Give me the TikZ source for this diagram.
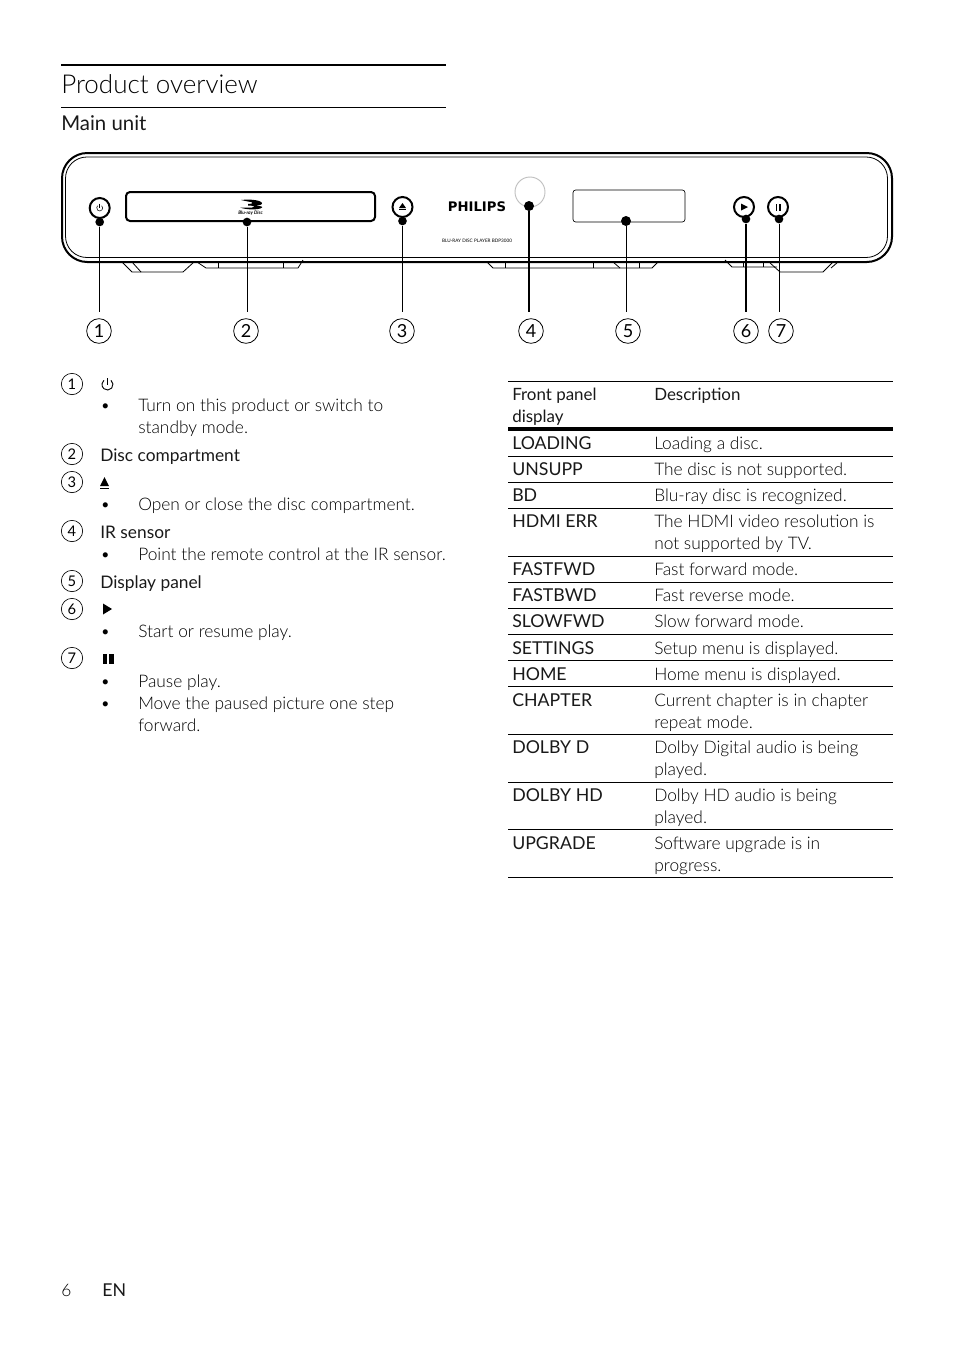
\documentclass[tikz,border=0pt]{standalone}
\usepackage{fontspec}
\setmainfont{Lato}
\newfontfamily\lightfont{Lato Light}
\newfontfamily\brandfont{DejaVu Sans}
\usepackage{tikz}
\usetikzlibrary{arrows.meta, positioning, shapes.geometric}

\begin{document}
\begin{tikzpicture}[
    x=0.75pt, y=-0.75pt,
    txt/.style={anchor=base west, inner sep=0pt, align=left, text=black!90,
                font=\fontsize{13}{16.5}\selectfont},
    capstxt/.style={txt, font=\fontsize{13.3}{16.5}\selectfont},
    headtxt/.style={txt, font=\fontsize{12.7}{16.5}\selectfont},
    desc/.style={txt, text=black, font=\fontsize{13}{16.5}\selectfont\lightfont},
    num/.style={circle, draw=black, line width=0.6pt, inner sep=0pt, minimum size=18.5pt,
                font=\fontsize{13.5}{14}\selectfont},
    key/.style={circle, draw=black, line width=0.5pt, inner sep=0pt, minimum size=16pt,
                font=\fontsize{11}{12}\selectfont},
    btn/.style={circle, draw=black, line width=1.5pt, fill=white, inner sep=0pt, minimum size=15pt},
    dot/.style={circle, fill=black, inner sep=0pt, minimum size=6.5pt},
    lead/.style={line width=0.55pt},
    leadb/.style={line width=1.4pt},
    edge/.style={line width=0.6pt}
]
\useasboundingbox (0,0) rectangle (954,1350);
% heading
\draw[line width=1.2pt] (61,65) -- (446,65);
\draw[line width=0.5pt] (61,107) -- (446,107);
\node[txt, text=black, font=\fontsize{19.5}{22}\selectfont\lightfont] (title) at (61,93) {Product overview};
\node[txt, font=\fontsize{15.3}{18}\selectfont] (sub) at (61,130) {Main unit};
% player
\draw[line width=1.5pt, rounded corners=19pt] (62,153) rectangle (892,262);
\draw[line width=0.6pt, rounded corners=16pt] (65.5,157) rectangle (887.5,257.5);
\draw[edge] (122,262) -- (132,272) -- (183,272) -- (194,262);
\draw[edge] (132,262) -- (141,272);
\draw[edge] (197,262) -- (206,268) -- (298,268) -- (303,260);
\draw[edge] (218,262) -- (218,268); \draw[edge] (283,262) -- (283,268);
\draw[edge] (487,262) -- (493,268) -- (652,268) -- (658,262);
\draw[edge] (505,262) -- (505,268); \draw[edge] (593,262) -- (593,268);
\draw[edge] (613,262) -- (620,268); \draw[edge] (639,262) -- (639,268);
\draw[edge] (725,260) -- (732,267) -- (777,267);
\draw[edge] (743,262) -- (743,267); \draw[edge] (763,262) -- (763,267);
\draw[edge] (769,262) -- (780,272) -- (823,272) -- (833,262);
\draw[edge] (831,268) -- (838,262);
% front panel
\draw[line width=1.5pt, rounded corners=3pt] (126,192) rectangle (375,221);
\draw[line width=0.5pt, rounded corners=2pt] (573,190) rectangle (685,222);
\draw[black!25, line width=0.7pt] (530,192) circle[radius=15];
\fill (241,200) .. controls (250,199) and (262,200) .. (262,203.5) .. controls (262,205) and (258,205.5) .. (255,205.5) .. controls (260,206) and (263,206.5) .. (262,207.5) .. controls (260,210) and (246,210) .. (240,207.5) -- (252,207.5) .. controls (256,207) and (254,205.5) .. (248,205.5) -- (248,204) .. controls (254,204) and (254,202) .. (248,201.5) -- cycle;
\node[inner sep=0pt, font=\fontsize{3.6}{4}\selectfont\bfseries\itshape] (bdlogo) at (250.5,213) {Blu-ray Disc};
\node[inner sep=0pt, font=\fontsize{9.9}{11}\selectfont\brandfont\bfseries] (brand) at (477,207) {PHILIPS};
\node[inner sep=0pt, font=\fontsize{3.5}{4}\selectfont] (model) at (477,241) {BLU-RAY DISC PLAYER BDP3000};
\node[btn] (bpwr) at (99.7,208) {};
\node[btn] (bejc) at (402.5,207) {};
\node[btn] (bply) at (744,207) {};
\node[btn] (bpau) at (778,207) {};
\draw[line width=0.4pt] (101.6,205.7) arc[start angle=-50, end angle=230, radius=3];
\draw[line width=0.4pt] (99.7,203.5) -- (99.7,207.5);
\fill (399,208) -- (402.5,203) -- (406,208) -- cycle;
\fill (399,209) rectangle (406,210);
\fill (741,203.5) -- (748,207) -- (741,210.5) -- cycle;
\fill (775.5,203.5) rectangle (776.8,210.5);
\fill (779.2,203.5) rectangle (780.5,210.5);
% callouts
\node[dot] (d1) at (99.7,222) {};
\node[dot] (d2) at (247,222) {};
\node[dot] (d3) at (402.5,221) {};
\node[dot, minimum size=7.5pt] (d4) at (529,206) {};
\node[dot, minimum size=7.5pt] (d5) at (626,221) {};
\node[dot] (d6) at (746,219) {};
\node[dot] (d7) at (779,219) {};
\coordinate (e1) at (99.7,312);
\coordinate (e2) at (247,312);
\coordinate (e3) at (402.5,312);
\coordinate (e4) at (529,312);
\coordinate (e5) at (626,312);
\coordinate (e6) at (746,312);
\coordinate (e7) at (779,312);
\draw[lead] (d1) -- (e1); \draw[lead] (d2) -- (e2); \draw[lead] (d3) -- (e3);
\draw[leadb] (d4) -- (e4); \draw[lead] (d5) -- (e5);
\draw[leadb] (d6) -- (e6); \draw[lead] (d7) -- (e7);
\node[num] (n1) at (99,331) {1};
\node[num] (n2) at (246,331) {2};
\node[num] (n3) at (402,331) {3};
\node[num] (n4) at (531,331) {4};
\node[num] (n5) at (628,331) {5};
\node[num] (n6) at (746,331) {6};
\node[num] (n7) at (781,331) {7};
% legend
\node[key] (k1) at (72,384) {1};
\node[key] (k2) at (72,454) {2};
\node[key] (k3) at (72,482) {3};
\node[key] (k4) at (72,531) {4};
\node[key] (k5) at (72,581) {5};
\node[key] (k6) at (72,609) {6};
\node[key] (k7) at (72,658) {7};
\draw[line width=0.7pt] (111,380.3) arc[start angle=-50, end angle=230, radius=5.5];
\draw[line width=0.7pt] (107.5,378) -- (107.5,384.5);
\fill (100,486) -- (104.5,477) -- (109,486) -- cycle;
\fill (100,487.5) rectangle (109,488.5);
\fill (103,603.5) -- (112,609) -- (103,614.5) -- cycle;
\fill (103,654) rectangle (107,664);
\fill (109,654) rectangle (114,664);
\node[desc] (b1) at (100,411) {•};
\node[desc] (t1) at (138,411) {Turn on this product or switch to};
\node[desc] (t1b) at (138,433) {standby mode.};
\node[txt] (l2) at (100,461) {Disc compartment};
\node[desc] (b3) at (100,510) {•};
\node[desc] (t3) at (138,510) {Open or close the disc compartment.};
\node[txt] (l4) at (100,538) {IR sensor};
\node[desc] (b4) at (100,560) {•};
\node[desc] (t4) at (138,560) {Point the remote control at the IR sensor.};
\node[txt] (l5) at (100,588) {Display panel};
\node[desc] (b6) at (100,637) {•};
\node[desc] (t6) at (138,637) {Start or resume play.};
\node[desc] (b7) at (100,687) {•};
\node[desc] (t7) at (138,687) {Pause play.};
\node[desc] (b7b) at (100,709) {•};
\node[desc] (t7b) at (138,709) {Move the paused picture one step};
\node[desc] (t7c) at (138,731) {forward.};
% table
\draw[line width=0.5pt] (508,381) -- (893,381);
\draw[line width=2.4pt] (508,429) -- (893,429);
\draw[line width=0.5pt] (508,456) -- (893,456);
\draw[line width=0.5pt] (508,482) -- (893,482);
\draw[line width=0.5pt] (508,508) -- (893,508);
\draw[line width=0.5pt] (508,556) -- (893,556);
\draw[line width=0.5pt] (508,582) -- (893,582);
\draw[line width=0.5pt] (508,608) -- (893,608);
\draw[line width=0.5pt] (508,634) -- (893,634);
\draw[line width=0.5pt] (508,660) -- (893,660);
\draw[line width=0.5pt] (508,686) -- (893,686);
\draw[line width=0.5pt] (508,734) -- (893,734);
\draw[line width=0.5pt] (508,782) -- (893,782);
\draw[line width=0.5pt] (508,829) -- (893,829);
\draw[line width=0.5pt] (508,877) -- (893,877);
\node[headtxt] (h1) at (512,400) {Front panel};
\node[headtxt] (h1b) at (512,422) {display};
\node[headtxt] (h2) at (654,400) {Description};
\node[capstxt] (r1) at (512,449) {LOADING};
\node[desc] (s1) at (654,449) {Loading a disc.};
\node[capstxt] (r2) at (512,475) {UNSUPP};
\node[desc] (s2) at (654,475) {The disc is not supported.};
\node[capstxt] (r3) at (512,501) {BD};
\node[desc] (s3) at (654,501) {Blu-ray disc is recognized.};
\node[capstxt] (r4) at (512,527) {HDMI ERR};
\node[desc] (s4) at (654,527) {The HDMI video resolution is};
\node[desc] (s4b) at (654,549) {not supported by TV.};
\node[capstxt] (r5) at (512,575) {FASTFWD};
\node[desc] (s5) at (654,575) {Fast forward mode.};
\node[capstxt] (r6) at (512,601) {FASTBWD};
\node[desc] (s6) at (654,601) {Fast reverse mode.};
\node[capstxt] (r7) at (512,627) {SLOWFWD};
\node[desc] (s7) at (654,627) {Slow forward mode.};
\node[capstxt] (r8) at (512,654) {SETTINGS};
\node[desc] (s8) at (654,654) {Setup menu is displayed.};
\node[capstxt] (r9) at (512,680) {HOME};
\node[desc] (s9) at (654,680) {Home menu is displayed.};
\node[capstxt] (r10) at (512,706) {CHAPTER};
\node[desc] (s10) at (654,706) {Current chapter is in chapter};
\node[desc] (s10b) at (654,728) {repeat mode.};
\node[capstxt] (r11) at (512,753) {DOLBY D};
\node[desc] (s11) at (654,753) {Dolby Digital audio is being};
\node[desc] (s11b) at (654,775) {played.};
\node[capstxt] (r12) at (512,801) {DOLBY HD};
\node[desc] (s12) at (654,801) {Dolby HD audio is being};
\node[desc] (s12b) at (654,823) {played.};
\node[capstxt] (r13) at (512,849) {UPGRADE};
\node[desc] (s13) at (654,849) {Software upgrade is in};
\node[desc] (s13b) at (654,871) {progress.};
% footer
\node[desc] (pg) at (61,1296) {6};
\node[capstxt] (lang) at (102,1296) {EN};
\end{tikzpicture}
\end{document}
